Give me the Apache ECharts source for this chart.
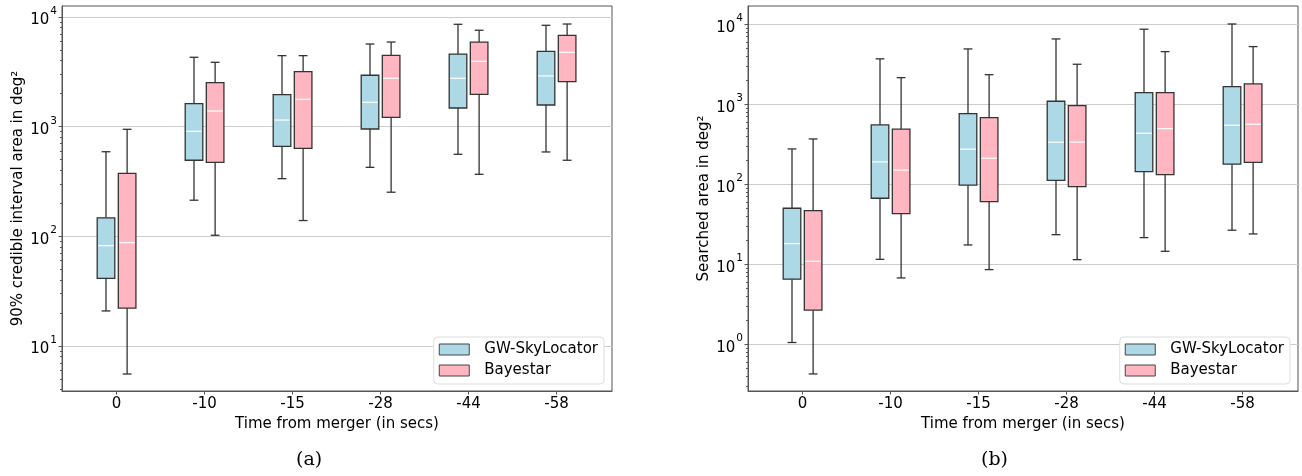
<!DOCTYPE html>
<html>
<head>
<meta charset="utf-8">
<script src="https://cdn.jsdelivr.net/npm/echarts@6/dist/echarts.min.js"></script>
<style>
html,body{margin:0;padding:0;background:#fff;}
#chart{width:1302px;height:476px;}
</style>
</head>
<body>
<div id="chart"></div>
<script>
// ---- data ----
const categories = ['0', '-10', '-15', '-28', '-44', '-58'];
const seriesNames = ['GW-SkyLocator', 'Bayestar'];
// each entry: [lowerWhisker, Q1, median, Q3, upperWhisker]
// panel (a): 90% credible interval area (deg^2)
const gwCredible = [
  [20.8, 41.3, 82, 147, 590],
  [213, 493, 906, 1618, 4290],
  [335, 661, 1148, 1955, 4440],
  [425, 951, 1666, 2940, 5670],
  [559, 1478, 2760, 4590, 8580],
  [587, 1574, 2900, 4860, 8400]
];
const bayCredible = [
  [5.53, 22.1, 87.3, 375, 945],
  [102, 472, 1388, 2515, 3860],
  [139, 634, 1775, 3170, 4440],
  [252, 1216, 2760, 4470, 5910],
  [367, 1972, 3940, 5910, 7570],
  [493, 2570, 4760, 6810, 8630]
];
// panel (b): searched area (deg^2)
const gwSearched = [
  [1.05, 6.5, 18.1, 50.1, 276],
  [11.5, 66.8, 190, 551, 3690],
  [17.4, 97.2, 274, 763, 4910],
  [23.4, 112, 335, 1090, 6550],
  [21.5, 144, 434, 1396, 8660],
  [26.6, 178, 546, 1660, 10070]
];
const baySearched = [
  [0.425, 2.66, 10.9, 46.8, 368],
  [6.74, 42.9, 150, 487, 2150],
  [8.56, 60.6, 211, 680, 2340],
  [11.4, 93.3, 336, 960, 3160],
  [14.5, 132, 495, 1396, 4545],
  [23.9, 188, 562, 1794, 5250]
];
const yTicksA = [10, 100, 1000, 10000];
const yTicksB = [1, 10, 100, 1000, 10000];
const yRangeA = [3.87, 12600];
const yRangeB = [0.26, 16900];
const xTitle = 'Time from merger (in secs)';
const yTitleA = '90% credible interval area in deg\u00B2';
const yTitleB = 'Searched area in deg\u00B2';
const captions = ['(a)', '(b)'];

// ---- helpers ----
const FONT = 'DejaVu Sans';
const COLORS = ['#ADD8E6', '#FFB6C1'];
const EDGE = '#333';
const positions = categories.map((c, i) => i + 1);

function minorTicks(range) {
  const out = [];
  for (let e = -2; e <= 5; e++) {
    for (let m = 2; m <= 9; m++) {
      const v = m * Math.pow(10, e);
      if (v >= range[0] && v <= range[1]) out.push(v);
    }
  }
  return out;
}
function toRows(arr) {
  return arr.map((d, i) => [positions[i]].concat(d));
}
function makeRender(off, color) {
  return function (params, api) {
    const x = api.value(0) + off;
    const lo = api.coord([x, api.value(1)]);
    const q1 = api.coord([x, api.value(2)]);
    const md = api.coord([x, api.value(3)]);
    const q3 = api.coord([x, api.value(4)]);
    const hi = api.coord([x, api.value(5)]);
    const half = (api.coord([x + 0.1, api.value(3)])[0] - api.coord([x - 0.1, api.value(3)])[0]) / 2;
    const cx = md[0];
    const ls = { stroke: EDGE, lineWidth: 1.3 };
    return {
      type: 'group',
      children: [
        { type: 'line', shape: { x1: cx, y1: lo[1], x2: cx, y2: q1[1] }, style: ls },
        { type: 'line', shape: { x1: cx, y1: q3[1], x2: cx, y2: hi[1] }, style: ls },
        { type: 'line', shape: { x1: cx - half / 2, y1: lo[1], x2: cx + half / 2, y2: lo[1] }, style: ls },
        { type: 'line', shape: { x1: cx - half / 2, y1: hi[1], x2: cx + half / 2, y2: hi[1] }, style: ls },
        { type: 'rect', shape: { x: cx - half, y: q3[1], width: 2 * half, height: q1[1] - q3[1] },
          style: { fill: color, stroke: EDGE, lineWidth: 1.3 } },
        { type: 'line', shape: { x1: cx - half + 1, y1: md[1], x2: cx + half - 1, y2: md[1] },
          style: { stroke: '#fff', lineWidth: 1.2 } }
      ]
    };
  };
}
function supLabel(v) {
  return '{b|10}{s|' + Math.round(Math.log10(v)) + '}';
}

const grids = [
  { left: 62, top: 6, width: 550, height: 385 },
  { left: 748, top: 6, width: 550, height: 385 }
];
const panels = [
  { ticks: yTicksA, range: yRangeA, title: yTitleA, data: [gwCredible, bayCredible] },
  { ticks: yTicksB, range: yRangeB, title: yTitleB, data: [gwSearched, baySearched] }
];

const option = {
  animation: false,
  backgroundColor: '#fff',
  grid: grids.map(g => Object.assign({ show: true, borderColor: '#555', borderWidth: 1, backgroundColor: 'transparent' }, g)),
  xAxis: panels.map((p, i) => ({
    type: 'value', gridIndex: i, min: 0.38, max: 6.63,
    name: xTitle, nameLocation: 'middle', nameGap: 24,
    nameTextStyle: { fontFamily: FONT, fontSize: 15, color: '#000' },
    axisLine: { show: true, lineStyle: { color: '#555', width: 1 } },
    axisTick: { show: true, length: 3.5, customValues: positions, lineStyle: { color: '#555' } },
    axisLabel: { show: true, customValues: positions, margin: 6, fontFamily: FONT, fontSize: 15, color: '#000',
      formatter: v => categories[Math.round(v) - 1] },
    splitLine: { show: false }
  })),
  yAxis: [].concat(...panels.map((p, i) => [
    {
      type: 'log', logBase: 10, gridIndex: i, min: p.range[0], max: p.range[1],
      name: p.title, nameLocation: 'middle', nameGap: 36, nameRotate: 90,
      nameTextStyle: { fontFamily: FONT, fontSize: 15, color: '#000' },
      axisLine: { show: true, lineStyle: { color: '#555', width: 1 } },
      axisTick: { show: true, length: 3.5, customValues: p.ticks, lineStyle: { color: '#555' } },
      axisLabel: { show: true, customValues: p.ticks, margin: 5, formatter: supLabel,
        rich: {
          b: { fontFamily: FONT, fontSize: 15, color: '#000', lineHeight: 22, verticalAlign: 'bottom' },
          s: { fontFamily: FONT, fontSize: 10.5, color: '#000', lineHeight: 22, verticalAlign: 'top', padding: [0, 0, 0, 1] }
        } },
      splitLine: { show: true, lineStyle: { color: '#ccc', width: 1 } }
    },
    {
      type: 'log', logBase: 10, gridIndex: i, min: p.range[0], max: p.range[1], position: 'left',
      axisLine: { show: false },
      axisTick: { show: true, length: 2, customValues: minorTicks(p.range), lineStyle: { color: '#555' } },
      axisLabel: { show: false },
      splitLine: { show: false }
    }
  ])),
  legend: [
    { right: 698, bottom: 92 },
    { right: 12, bottom: 92 }
  ].map(pos => Object.assign({
    orient: 'vertical', data: seriesNames, icon: 'rect', itemWidth: 30, itemHeight: 11, itemGap: 6,
    backgroundColor: '#fff', borderColor: '#ddd', borderWidth: 1, borderRadius: 4, padding: [5, 6, 6, 5],
    selectedMode: false,
    itemStyle: { borderColor: '#444', borderWidth: 1 },
    textStyle: { fontFamily: FONT, fontSize: 15, color: '#000', padding: [0, 0, 0, 10] }
  }, pos)),
  series: [].concat(...panels.map((p, i) => p.data.map((d, k) => ({
    type: 'custom', name: seriesNames[k], xAxisIndex: i, yAxisIndex: i * 2,
    itemStyle: { color: COLORS[k], borderColor: EDGE, borderWidth: 1 },
    renderItem: makeRender(k === 0 ? -0.12 : 0.12, COLORS[k]),
    encode: { x: 0, y: [1, 2, 3, 4, 5] },
    data: toRows(d)
  })))),
  graphic: [
    { type: 'text', left: 296, top: 451, style: { text: captions[0], font: '19px "DejaVu Serif"', fill: '#000' } },
    { type: 'text', left: 981, top: 451, style: { text: captions[1], font: '19px "DejaVu Serif"', fill: '#000' } }
  ]
};

const chart = echarts.init(document.getElementById('chart'));
chart.setOption(option);
</script>
</body>
</html>
